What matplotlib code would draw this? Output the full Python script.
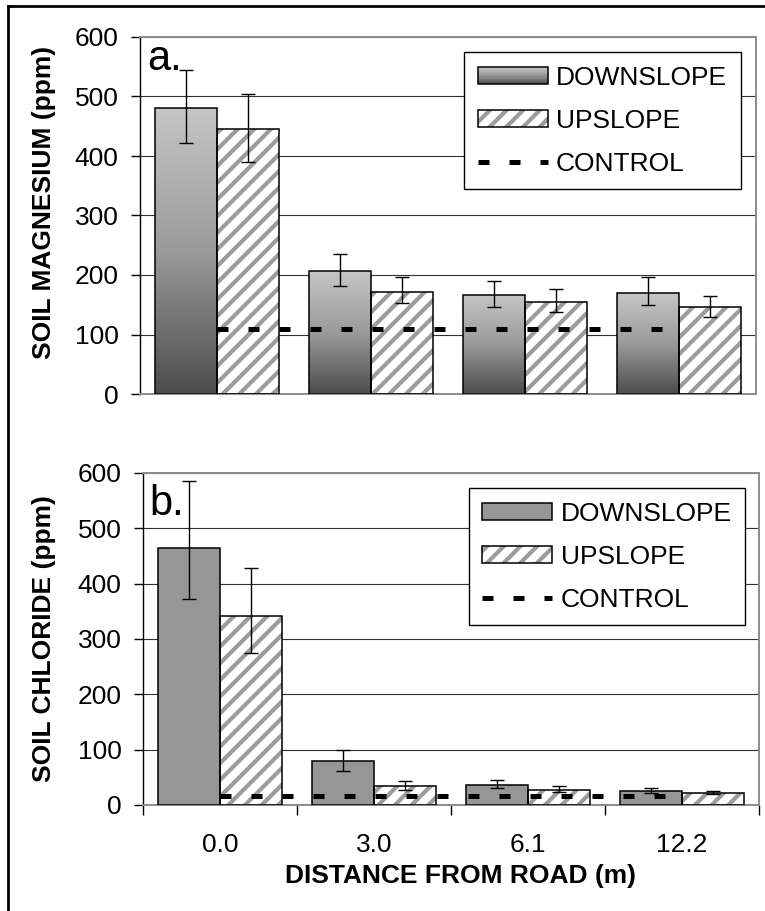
import numpy as np
import matplotlib
matplotlib.use("Agg")
import matplotlib.pyplot as plt
from matplotlib.patches import Rectangle, Patch
from matplotlib.lines import Line2D
from matplotlib.legend_handler import HandlerBase, HandlerTuple
from matplotlib.colors import LinearSegmentedColormap

plt.rcParams['font.family'] = ['Liberation Sans', 'DejaVu Sans']
plt.rcParams['hatch.linewidth'] = 3.0

# ---------------- data ----------------
categories = ['0.0', '3.0', '6.1', '12.2']
series_names = ['DOWNSLOPE', 'UPSLOPE', 'CONTROL']

mg_down = [480, 206, 167, 169]
mg_down_err_lo = [58, 25, 21, 20]
mg_down_err_hi = [65, 29, 23, 27]
mg_up = [445, 172, 155, 146]
mg_up_err_lo = [55, 19, 17, 16]
mg_up_err_hi = [60, 24, 21, 18]
mg_control = 110

cl_down = [465, 80, 37, 25]
cl_down_err_lo = [93, 19, 6, 4]
cl_down_err_hi = [120, 19, 9, 6]
cl_up = [342, 34, 28, 22]
cl_up_err_lo = [67, 6, 4, 3]
cl_up_err_hi = [86, 9, 6, 3]
cl_control = 16

yticks = [0, 100, 200, 300, 400, 500, 600]
ylabel_a = 'SOIL MAGNESIUM (ppm)'
ylabel_b = 'SOIL CHLORIDE (ppm)'
xlabel = 'DISTANCE FROM ROAD (m)'

# ---------------- styling ----------------
FS = 19
grad_cmap = LinearSegmentedColormap.from_list('g', ['#4c4c4c', '#9a9a9a', '#c6c6c6'])
SOLID_GRAY = '#969696'
HATCH_GRAY = '#9c9c9c'
SPINE_GRAY = '#8c8c8c'
BW = 0.4
HATCH = '//'


class GradHandler(HandlerBase):
    def create_artists(self, legend, orig_handle, xdescent, ydescent,
                       width, height, fontsize, trans):
        arts = []
        n = 16
        for i in range(n):
            c = grad_cmap(i / (n - 1))
            r = Rectangle((-xdescent, -ydescent + height * i / n), width,
                          height / n * 1.15, facecolor=c, edgecolor='none',
                          transform=trans)
            arts.append(r)
        arts.append(Rectangle((-xdescent, -ydescent), width, height,
                              fill=False, edgecolor='black', lw=1.1,
                              transform=trans))
        return arts


fig = plt.figure(figsize=(7.65, 9.11), dpi=100)
axA = fig.add_axes([140 / 765, 1 - 394 / 911, 616 / 765, 357 / 911])
axB = fig.add_axes([143 / 765, 1 - 805 / 911, 616 / 765, 332 / 911])

x = np.arange(len(categories))


def draw_panel(ax, down, dlo, dhi, up, ulo, uhi, ctrl, gradient):
    ax.set_xlim(-0.5, len(categories) - 0.5)
    ax.set_ylim(0, 600)
    ax.set_yticks(yticks)
    ax.yaxis.grid(True, color='#303030', lw=0.8, zorder=0)
    ax.set_axisbelow(True)

    # downslope bars
    if gradient:
        bars = ax.bar(x - BW / 2, down, BW, facecolor='none',
                      edgecolor='black', lw=1.1, zorder=3)
        grad = np.linspace(0, 1, 256).reshape(-1, 1)
        for b in bars:
            x0, y0 = b.get_x(), b.get_y()
            w, h = b.get_width(), b.get_height()
            im = ax.imshow(grad, cmap=grad_cmap, origin='lower', aspect='auto',
                           extent=[x0, x0 + w, y0, y0 + h], zorder=2,
                           interpolation='bilinear')
            im.set_clip_path(b)
    else:
        ax.bar(x - BW / 2, down, BW, facecolor=SOLID_GRAY,
               edgecolor='black', lw=1.1, zorder=3)

    # upslope bars (hatched)
    ax.bar(x + BW / 2, up, BW, facecolor='white', edgecolor=HATCH_GRAY,
           hatch=HATCH, lw=0, zorder=2)
    ax.bar(x + BW / 2, up, BW, fill=False, edgecolor='black', lw=1.1, zorder=3)

    # control line
    ax.plot(x, [ctrl] * len(x), color='black', lw=3.6,
            linestyle=(0, (2.2, 4.0)), dash_capstyle='butt', zorder=4)

    # error bars
    ax.errorbar(x - BW / 2, down, yerr=[dlo, dhi], fmt='none', ecolor='black',
                elinewidth=1.0, capsize=5, capthick=1.0, zorder=5)
    ax.errorbar(x + BW / 2, up, yerr=[ulo, uhi], fmt='none', ecolor='black',
                elinewidth=1.0, capsize=5, capthick=1.0, zorder=5)

    ax.set_xlim(-0.5, len(categories) - 0.5)
    ax.set_ylim(0, 600)

    for s in ['top', 'right', 'bottom']:
        ax.spines[s].set_color(SPINE_GRAY)
        ax.spines[s].set_linewidth(1.4)
    ax.spines['left'].set_color('black')
    ax.spines['left'].set_linewidth(1.0)
    ax.tick_params(axis='y', length=6.5, width=1.0, pad=9, labelsize=FS,
                   direction='out')

    h_down = Patch(facecolor=SOLID_GRAY, edgecolor='black', lw=1.1)
    h_up1 = Patch(facecolor='white', edgecolor=HATCH_GRAY, hatch=HATCH, lw=0)
    h_up2 = Patch(fill=False, edgecolor='black', lw=1.1)
    h_ctrl = Line2D([], [], color='black', lw=3.6, linestyle=(0, (2.2, 4.0)),
                    dash_capstyle='butt')
    return [h_down, (h_up1, h_up2), h_ctrl]


hA = draw_panel(axA, mg_down, mg_down_err_lo, mg_down_err_hi,
                mg_up, mg_up_err_lo, mg_up_err_hi, mg_control, True)
hB = draw_panel(axB, cl_down, cl_down_err_lo, cl_down_err_hi,
                cl_up, cl_up_err_lo, cl_up_err_hi, cl_control, False)

leg_kw = dict(loc='upper right', borderaxespad=0, fontsize=FS, frameon=True,
              fancybox=False, edgecolor='black', framealpha=1,
              handlelength=2.65, handleheight=0.6, handletextpad=0.32,
              labelspacing=0.72, borderpad=0.52)

legA = axA.legend(hA, series_names, bbox_to_anchor=(0.9756, 0.958),
                  handler_map={hA[0]: GradHandler(),
                               tuple: HandlerTuple(ndivide=1, pad=0)},
                  **leg_kw)
legA.get_frame().set_linewidth(1.0)

legB = axB.legend(hB, series_names, bbox_to_anchor=(0.978, 0.955),
                  handler_map={tuple: HandlerTuple(ndivide=1, pad=0)},
                  **leg_kw)
legB.get_frame().set_linewidth(1.0)

# x axes
axA.set_xticks([])
axB.set_xticks(x)
axB.set_xticklabels(categories)
axB.set_xticks(np.arange(-0.5, len(categories)), minor=True)
axB.tick_params(axis='x', which='major', length=0, pad=20, labelsize=FS)
axB.tick_params(axis='x', which='minor', length=7, width=1.0, color='black',
                direction='out')

# y labels
axA.set_ylabel(ylabel_a, fontsize=FS, fontweight='bold')
axA.yaxis.set_label_coords(-0.136, 0.536)
axB.set_ylabel(ylabel_b, fontsize=FS, fontweight='bold')
axB.yaxis.set_label_coords(-0.141, 0.5)

axB.text(0.516, -0.235, xlabel, transform=axB.transAxes, fontsize=FS,
         fontweight='bold', ha='center', va='baseline')

# panel labels
axA.text(0.011, 0.908, 'a.', transform=axA.transAxes, fontsize=30,
         ha='left', va='baseline', zorder=6)
axB.text(0.011, 0.873, 'b.', transform=axB.transAxes, fontsize=30,
         ha='left', va='baseline', zorder=6)

# outer frame (left and top)
fig.add_artist(Line2D([8 / 765, 8 / 765], [0, 1 - 6 / 911], color='black',
                      lw=2.0, transform=fig.transFigure))
fig.add_artist(Line2D([8 / 765, 1], [1 - 6 / 911, 1 - 6 / 911], color='black',
                      lw=2.0, transform=fig.transFigure))

fig.savefig('out.png', dpi=100)
